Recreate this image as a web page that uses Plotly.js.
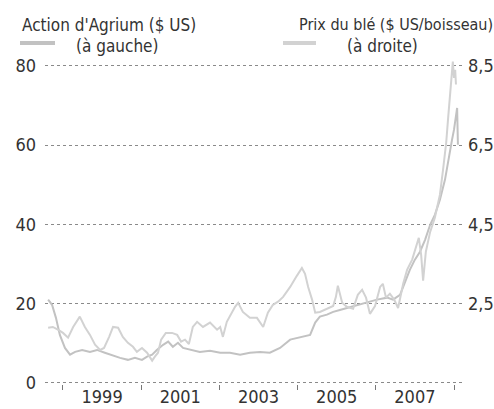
<!DOCTYPE html>
<html>
<head>
<meta charset="utf-8">
<script src="https://cdn.plot.ly/plotly-3.0.1.min.js"></script>
<style>
  html, body { margin: 0; padding: 0; background: #fff; }
  #chart { width: 494px; height: 409px; }
</style>
</head>
<body>
<div id="chart"></div>
<script>
// Action d'Agrium ($ US), axe de gauche (années décimales)
const agriumYears = [1997.62, 1997.72, 1997.82, 1997.92, 1998.05, 1998.18, 1998.31, 1998.49, 1998.69, 1998.87,
  1999.07, 1999.28, 1999.46, 1999.66, 1999.84, 2000.02, 2000.15, 2000.28, 2000.40, 2000.56,
  2000.69, 2000.81, 2000.94, 2001.07, 2001.25, 2001.50, 2001.76, 2002.02, 2002.27, 2002.53,
  2002.78, 2003.04, 2003.29, 2003.55, 2003.81, 2004.06, 2004.32, 2004.45, 2004.57, 2004.75,
  2004.91, 2005.08, 2005.26, 2005.52, 2005.77, 2006.03, 2006.29, 2006.44, 2006.62, 2006.75,
  2006.87, 2007.00, 2007.13, 2007.26, 2007.39, 2007.51, 2007.64, 2007.77, 2007.85, 2007.90,
  2007.95, 2008.00, 2008.05, 2008.08, 2008.10];
const agriumPrice = [21.0, 19.7, 16.4, 12.1, 8.8, 7.1, 7.8, 8.3, 7.8, 8.3,
  7.6, 6.8, 6.3, 5.8, 6.3, 5.8, 6.6, 7.1, 8.3, 9.6,
  10.4, 9.1, 10.1, 8.8, 8.3, 7.8, 8.1, 7.6, 7.6, 7.1,
  7.6, 7.8, 7.6, 8.8, 10.9, 11.4, 12.1, 15.2, 16.7, 17.2,
  17.9, 18.4, 18.9, 19.7, 20.2, 21.0, 21.5, 21.0, 22.2, 25.3,
  28.5, 31.1, 33.1, 36.1, 39.9, 42.4, 46.2, 51.3, 56.3, 58.8,
  61.4, 63.9, 67.7, 69.4, 60.1];

// Prix du blé ($ US/boisseau), axe de droite
const wheatYears = [1997.62, 1997.74, 1997.87, 1998.00, 1998.13, 1998.26, 1998.43, 1998.56, 1998.69, 1998.82,
  1998.95, 1999.05, 1999.18, 1999.28, 1999.41, 1999.53, 1999.66, 1999.79, 1999.89, 2000.02,
  2000.15, 2000.28, 2000.35, 2000.43, 2000.51, 2000.63, 2000.79, 2000.92, 2001.02, 2001.12,
  2001.22, 2001.32, 2001.43, 2001.58, 2001.76, 2001.94, 2002.02, 2002.09, 2002.19, 2002.30,
  2002.40, 2002.48, 2002.60, 2002.78, 2002.96, 2003.12, 2003.24, 2003.37, 2003.50, 2003.63,
  2003.81, 2003.98, 2004.11, 2004.19, 2004.27, 2004.37, 2004.45, 2004.57, 2004.75, 2004.91,
  2004.98, 2005.03, 2005.14, 2005.26, 2005.42, 2005.54, 2005.65, 2005.75, 2005.85, 2005.98,
  2006.11, 2006.18, 2006.26, 2006.36, 2006.47, 2006.57, 2006.70, 2006.80, 2006.93, 2007.03,
  2007.10, 2007.16, 2007.21, 2007.28, 2007.39, 2007.51, 2007.64, 2007.72, 2007.80, 2007.85,
  2007.90, 2007.95, 2007.97, 2008.00, 2008.03, 2008.05];
const wheatPrice = [1.89, 1.91, 1.84, 1.76, 1.64, 1.91, 2.17, 1.91, 1.71, 1.46,
  1.33, 1.38, 1.66, 1.91, 1.89, 1.66, 1.51, 1.41, 1.28, 1.38,
  1.26, 1.06, 1.16, 1.26, 1.59, 1.76, 1.76, 1.71, 1.54, 1.59,
  1.48, 1.91, 2.04, 1.91, 2.02, 1.84, 1.91, 1.66, 2.04, 2.24,
  2.42, 2.52, 2.29, 2.14, 2.14, 1.91, 2.27, 2.47, 2.55, 2.67,
  2.92, 3.20, 3.40, 3.25, 2.92, 2.60, 2.27, 2.29, 2.37, 2.44,
  2.67, 2.95, 2.52, 2.42, 2.37, 2.72, 2.85, 2.65, 2.24, 2.44,
  2.92, 3.00, 2.65, 2.75, 2.60, 2.39, 3.00, 3.35, 3.61, 3.91,
  4.16, 3.73, 3.08, 3.81, 4.31, 4.67, 5.25, 5.88, 6.56, 7.19,
  7.77, 8.35, 8.61, 8.20, 8.40, 8.03];

const yearLabels = [1999, 2001, 2003, 2005, 2007];
const leftTicks = [0, 20, 40, 60, 80];
const rightTicks = [2.5, 4.5, 6.5, 8.5];
const rightTickText = ["2,5", "4,5", "6,5", "8,5"];

const FONT = "'Liberation Sans Narrow', 'DejaVu Sans Condensed', Roboto, sans-serif";
const INK = "#333333";

// plot area in pixels: x 45..463, y 58..384
const px = (x) => (x - 45) / 418;
const py = (y) => (384 - y) / 326;

const traces = [
  {
    x: wheatYears, y: wheatPrice, yaxis: "y2",
    type: "scatter", mode: "lines", name: "Prix du blé",
    line: { color: "#d2d2d2", width: 2 },
  },
  {
    x: agriumYears, y: agriumPrice,
    type: "scatter", mode: "lines", name: "Action d'Agrium",
    line: { color: "#c2c2c2", width: 2 },
  },
];

const layout = {
  width: 494, height: 409,
  margin: { l: 45, r: 31, t: 58, b: 25 },
  paper_bgcolor: "#fff", plot_bgcolor: "#fff",
  showlegend: false,
  font: { family: FONT, color: INK, size: 18 },
  xaxis: {
    range: [1997.54, 2008.23],
    tickvals: yearLabels, ticktext: yearLabels.map(String),
    ticks: "", showgrid: false, zeroline: false, showline: false,
    tickfont: { size: 18, color: INK },
    minor: { tick0: 1998, dtick: 2, ticks: "outside", ticklen: 5, tickcolor: "#777", tickwidth: 1, showgrid: false },
  },
  yaxis: {
    range: [-0.3, 82],
    tickvals: leftTicks, ticks: "",
    showgrid: true, gridcolor: "#8a8a8a", griddash: "dot", gridwidth: 1,
    zeroline: false, showline: false,
    ticklabelstandoff: 8,
    tickfont: { size: 18, color: INK },
  },
  yaxis2: {
    overlaying: "y", side: "right",
    range: [0.47, 8.7],
    tickvals: rightTicks, ticktext: rightTickText, ticks: "",
    showgrid: false, zeroline: false, showline: false,
    ticklabelstandoff: 4,
    tickfont: { size: 18, color: INK },
  },
  annotations: [
    { text: "Action d'Agrium ($ US)", xref: "paper", yref: "paper", x: px(20), y: py(25), xanchor: "left", yanchor: "middle", showarrow: false, font: { size: 17 } },
    { text: "(à gauche)", xref: "paper", yref: "paper", x: px(74), y: py(46), xanchor: "left", yanchor: "middle", showarrow: false, font: { size: 17 } },
    { text: "Prix du blé ($ US/boisseau)", xref: "paper", yref: "paper", x: px(495), y: py(25), xanchor: "right", yanchor: "middle", showarrow: false, font: { size: 16 } },
    { text: "(à droite)", xref: "paper", yref: "paper", x: px(345), y: py(46), xanchor: "left", yanchor: "middle", showarrow: false, font: { size: 17 } },
  ],
  shapes: [
    { type: "line", xref: "paper", yref: "paper", x0: px(20), x1: px(55), y0: py(43), y1: py(43), line: { color: "#c2c2c2", width: 4 } },
    { type: "line", xref: "paper", yref: "paper", x0: px(283), x1: px(316), y0: py(43), y1: py(43), line: { color: "#d2d2d2", width: 4 } },
  ],
};

Plotly.newPlot("chart", traces, layout, { displayModeBar: false, staticPlot: true });
</script>
</body>
</html>
